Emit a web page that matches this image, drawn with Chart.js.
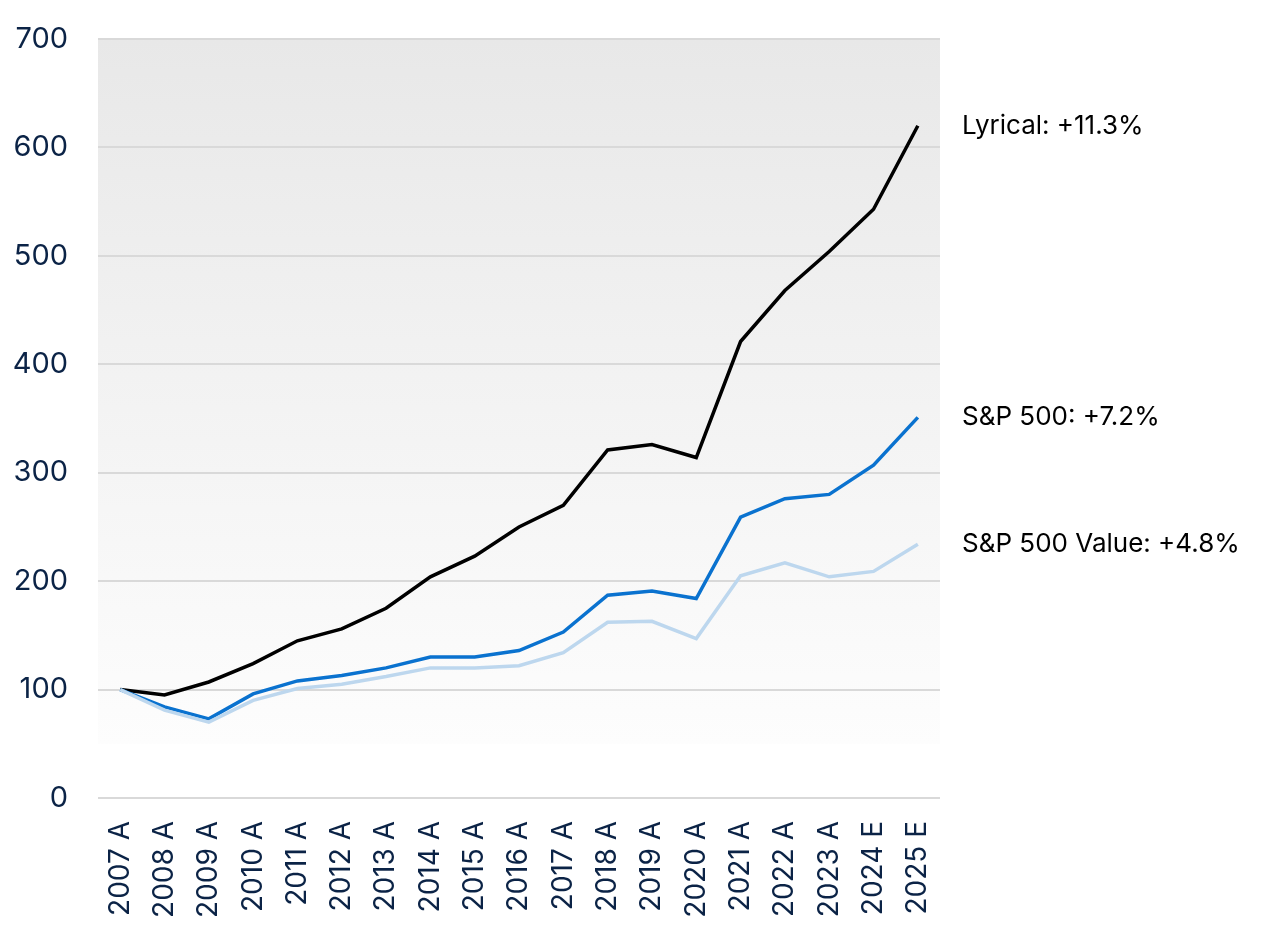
<!DOCTYPE html>
<html>
<head>
<meta charset="utf-8">
<script src="https://cdn.jsdelivr.net/npm/chart.js@4"></script>
<style>
    html, body { margin: 0; padding: 0; background: #fff; }
    #wrap { width: 1281px; height: 926px; }
</style>
</head>
<body>
<div id="wrap"><canvas id="growthChart"></canvas></div>
<script>
// categories and series
const years = ['2007 A', '2008 A', '2009 A', '2010 A', '2011 A', '2012 A', '2013 A', '2014 A', '2015 A', '2016 A',
    '2017 A', '2018 A', '2019 A', '2020 A', '2021 A', '2022 A', '2023 A', '2024 E', '2025 E'];
const lyrical = [100, 95, 107, 124, 145, 156, 175, 204, 223, 250, 270, 321, 326, 314, 421, 468, 504, 543, 620];
const sp500 = [100, 84, 73, 96, 108, 113, 120, 130, 130, 136, 153, 187, 191, 184, 259, 276, 280, 307, 351];
const sp500Value = [100, 81, 70, 90, 101, 105, 112, 120, 120, 122, 134, 162, 163, 147, 205, 217, 204, 209, 234];
const seriesNames = ['Lyrical: +11.3%', 'S&P 500: +7.2%', 'S&P 500 Value: +4.8%'];
const yTicks = [0, 100, 200, 300, 400, 500, 600, 700];

const FONT = 'Inter, "Noto Sans", sans-serif';
const NAVY = '#0b2346';

// shaded background behind the plot
const bgPlugin = {
    id: 'bgShade',
    beforeDraw(chart) {
        const { ctx, chartArea } = chart;
        const bottom = chart.scales.y.getPixelForValue(50);
        const grad = ctx.createLinearGradient(0, chartArea.top, 0, bottom);
        grad.addColorStop(0, '#e8e8e8');
        grad.addColorStop(1, '#fdfdfd');
        ctx.save();
        ctx.fillStyle = grad;
        ctx.fillRect(chartArea.left, chartArea.top, chartArea.right - chartArea.left, bottom - chartArea.top);
        ctx.restore();
    }
};

// series names at the end of each line
const endLabels = {
    id: 'endLabels',
    afterDatasetsDraw(chart) {
        const { ctx, chartArea } = chart;
        ctx.save();
        ctx.font = '400 26px ' + FONT;
        ctx.fillStyle = '#000';
        ctx.textBaseline = 'middle';
        chart.data.datasets.forEach((ds, i) => {
            const y = chart.scales.y.getPixelForValue(ds.data[ds.data.length - 1]);
            ctx.fillText(seriesNames[i], chartArea.right + 22, y);
        });
        ctx.restore();
    }
};

new Chart(document.getElementById('growthChart'), {
    type: 'line',
    data: {
        labels: years,
        datasets: [
            { data: lyrical, borderColor: '#000000' },
            { data: sp500, borderColor: '#0a72cf' },
            { data: sp500Value, borderColor: '#bdd7ee' }
        ].map((d, i) => Object.assign(d, { borderWidth: 3.5, pointRadius: 0, tension: 0, fill: false, order: 3 - i }))
    },
    options: {
        responsive: true,
        maintainAspectRatio: false,
        animation: false,
        layout: { padding: { top: 39, right: 341, bottom: 2, left: 0 } },
        plugins: { legend: { display: false }, tooltip: { enabled: false } },
        scales: {
            x: {
                offset: true,
                afterFit(axis) { axis.height = 126; },
                grid: { display: false },
                border: { display: false },
                ticks: {
                    minRotation: 90, maxRotation: 90, padding: 15,
                    color: NAVY, font: { family: FONT, size: 28 }
                }
            },
            y: {
                min: 0, max: 700,
                afterBuildTicks(axis) { axis.ticks = yTicks.map(v => ({ value: v })); },
                afterFit(axis) { axis.width = 98; axis.paddingTop = 0; axis.paddingBottom = 0; },
                grid: { color: '#d9d9d9', lineWidth: 2, drawTicks: false },
                border: { display: false },
                ticks: {
                    padding: 30, color: NAVY,
                    font: { family: FONT, size: 29 }
                }
            }
        }
    },
    plugins: [bgPlugin, endLabels]
});
</script>
</body>
</html>
